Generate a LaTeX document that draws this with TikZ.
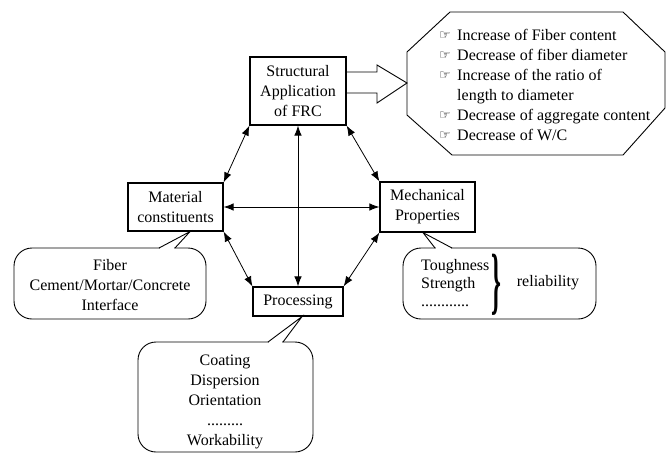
\documentclass[tikz,border=0pt]{standalone}
\usepackage{fontspec}
\usepackage{graphicx}
\setmainfont{Liberation Serif}
\newfontfamily\symfont{DejaVu Sans}
\usetikzlibrary{arrows.meta}
\newcommand{\handicon}{\makebox[18pt][l]{\raisebox{1pt}{\symfont\fontsize{13}{13}\selectfont ☞}}}
\begin{document}
\begin{tikzpicture}[x=1pt,y=-1pt,
  box/.style={draw, line width=1.2pt, align=center, inner sep=0pt, font=\fontsize{16}{20}\selectfont},
  txt/.style={align=center, inner sep=0pt, font=\fontsize{16}{20}\selectfont},
  link/.style={line width=0.8pt, {Latex[length=10pt,width=7.5pt]}-{Latex[length=10pt,width=7.5pt]}},
  outline/.style={line width=0.9pt},
  bubble/.style={line width=0.9pt, rounded corners=18pt}]
\useasboundingbox (0,0) rectangle (671,453);

% boxes
\node[box, minimum width=96pt, minimum height=68pt] (sa) at (298,91) {Structural\\Application\\of FRC};
\node[box, minimum width=95pt, minimum height=48pt] (mat) at (175.5,207) {Material\\constituents};
\node[box, minimum width=95pt, minimum height=50pt] (mech) at (427.5,207) {Mechanical\\Properties};
\node[box, minimum width=90pt, minimum height=29pt] (proc) at (298,301.5) {Processing};

% links
\draw[link] (sa.south west) -- (mat.north east);
\draw[link] (sa.south) -- (proc.north);
\draw[link] (sa.south east) -- (mech.north west);
\draw[link] (mat.east) -- (mech.west);
\draw[link] (mat.south east) -- (proc.north west);
\draw[link] (mech.south west) -- (proc.north east);

% hollow arrow to octagon
\draw[outline] (sa.east |- 0,72) -- (377,72) -- (377,65) -- (407,83) -- (377,103) -- (377,93) -- (sa.east |- 0,93);

% octagon
\draw[outline] (450,12) -- (623,12) -- (665,52) -- (665,108) -- (623,155) -- (452,155) -- (407,115) -- (407,52) -- cycle;
\node[anchor=west, align=left, inner sep=0pt, font=\fontsize{16}{20}\selectfont] (oct) at (439,85)
 {\handicon Increase of Fiber content\\
  \handicon Decrease of fiber diameter\\
  \handicon Increase of the ratio of\\
  \hphantom{\handicon}length to diameter\\
  \handicon Decrease of aggregate content\\
  \handicon Decrease of W/C};

% material bubble
\draw[bubble] (14,248) rectangle (206,319);
\fill[white] (160,246.5) rectangle (174,249.5);
\draw[outline] (159,248) -- (mat.south -| 190,0) -- (175,248);
\node[txt] (matb) at (110,285) {Fiber\\Cement/Mortar/Concrete\\Interface};

% mechanical bubble
\draw[bubble] (403,248) rectangle (596,319);
\fill[white] (436,246.5) rectangle (451,249.5);
\draw[outline] (435,248) -- (mech.south -| 423,0) -- (452,248);
\node[anchor=west, align=left, inner sep=0pt, font=\fontsize{16}{18}\selectfont] (mechb) at (421,283)
 {Toughness\\Strength\\............};
\node[inner sep=0pt, font=\fontsize{20}{20}\selectfont\bfseries] (br) at (496,285) {\scalebox{1.25}[3.7]{\}}};
\node[txt] (rel) at (548,283) {reliability};

% processing bubble
\draw[bubble] (138,342) rectangle (313,452);
\fill[white] (269,340.5) rectangle (282,343.5);
\draw[outline] (268,342) -- (proc.south -| 302,0) -- (283,342);
\node[txt] (procb) at (225,402) {Coating\\Dispersion\\Orientation\\.........\\Workability};
\end{tikzpicture}
\end{document}
